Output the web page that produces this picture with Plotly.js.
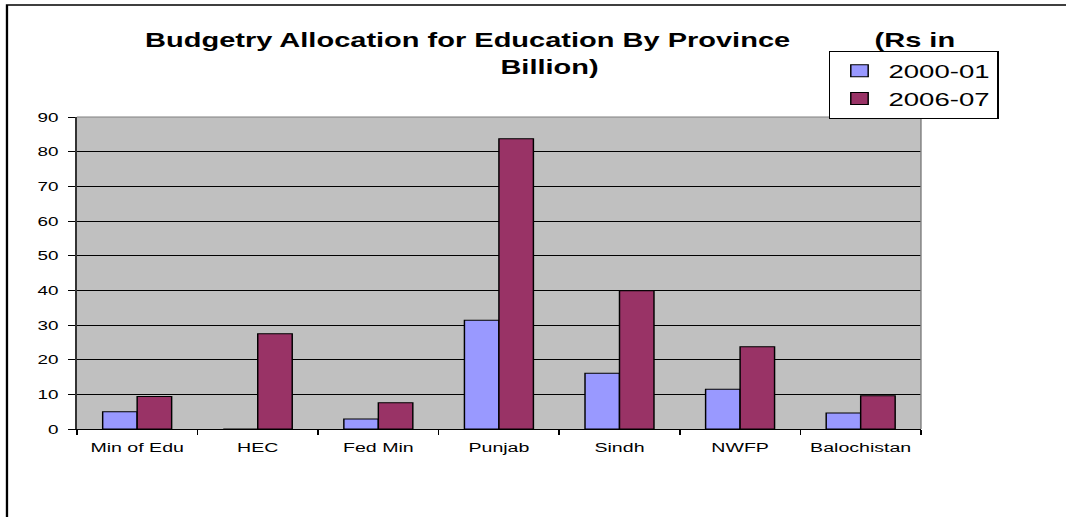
<!DOCTYPE html>
<html>
<head>
<meta charset="utf-8">
<script src="https://cdn.plot.ly/plotly-3.0.1.min.js"></script>
<style>
  html, body { margin: 0; padding: 0; background: #fff; overflow: hidden; }
  #chart { width: 735px; height: 517px; transform: scaleX(1.45034); transform-origin: 0 0; }
</style>
</head>
<body>
<div id="chart"></div>
<script>
const categories = ["Min of Edu", "HEC", "Fed Min", "Punjab", "Sindh", "NWFP", "Balochistan"];
const series2000 = [5.0, 0, 2.9, 31.4, 16.1, 11.5, 4.6];
const series2006 = [9.35, 27.5, 7.6, 83.7, 39.9, 23.7, 9.6];
const seriesNames = ["2000-01", "2006-07"];
const yTicks = [0, 10, 20, 30, 40, 50, 60, 70, 80, 90];

const FONT = "Liberation Sans, Arial, sans-serif";

const traces = [
  {
    type: "bar", name: seriesNames[0], x: categories, y: series2000,
    marker: { color: "#9999FF", line: { color: "#000000", width: 1 } },
    hoverinfo: "x+y+name"
  },
  {
    type: "bar", name: seriesNames[1], x: categories, y: series2006,
    marker: { color: "#993366", line: { color: "#000000", width: 1 } },
    hoverinfo: "x+y+name"
  }
];

const layout = {
  width: 735,
  height: 517,
  margin: { l: 53, r: 100, t: 117, b: 88, pad: 0 },
  paper_bgcolor: "#ffffff",
  plot_bgcolor: "#C0C0C0",
  font: { family: FONT, color: "#000000", size: 13 },
  barmode: "group",
  bargap: 0.428,
  bargroupgap: 0,
  showlegend: true,
  legend: {
    x: 0.9916, xanchor: "center",
    y: 1.2115, yanchor: "top",
    bgcolor: "#ffffff",
    bordercolor: "#000000",
    borderwidth: 1,
    font: { family: FONT, size: 19, color: "#000000" },
    tracegroupgap: 0
  },
  xaxis: {
    type: "category",
    showline: true, linecolor: "#000000", linewidth: 1,
    ticks: "outside", ticklen: 5, tickcolor: "#000000", tickwidth: 1,
    tickson: "boundaries",
    ticklabelstandoff: 6,
    showgrid: false, zeroline: false,
    tickfont: { family: FONT, size: 13.5, color: "#000000" },
    fixedrange: true
  },
  yaxis: {
    range: [0, 90],
    tickvals: yTicks,
    ticktext: yTicks.map(String),
    showline: true, linecolor: "#333333", linewidth: 1,
    ticks: "outside", ticklen: 5, tickcolor: "#000000", tickwidth: 1,
    ticklabelstandoff: 4,
    showgrid: true, gridcolor: "#000000", gridwidth: 1,
    zeroline: false,
    tickfont: { family: FONT, size: 13, color: "#000000" },
    fixedrange: true
  },
  shapes: [
    { type: "line", xref: "paper", yref: "paper", x0: 0, x1: 1, y0: 1, y1: 1,
      line: { color: "#808080", width: 1.2 }, layer: "above" },
    { type: "line", xref: "paper", yref: "paper", x0: 1, x1: 1, y0: 0, y1: 1,
      line: { color: "#808080", width: 1 }, layer: "above" },
    { type: "rect", xref: "paper", yref: "paper", x0: -0.0828, x1: 2, y0: -1, y1: 1.359,
      line: { color: "#000000", width: 1.6 }, fillcolor: "rgba(0,0,0,0)", layer: "above" }
  ],
  annotations: [
    { xref: "paper", yref: "paper", x: 0.4634, y: 1.2468, xanchor: "center", yanchor: "middle",
      text: "<b>Budgetry Allocation for Education By Province</b>", showarrow: false,
      font: { family: FONT, size: 20, color: "#000000" } },
    { xref: "paper", yref: "paper", x: 0.993, y: 1.2468, xanchor: "center", yanchor: "middle",
      text: "<b>(Rs in</b>", showarrow: false,
      font: { family: FONT, size: 20, color: "#000000" } },
    { xref: "paper", yref: "paper", x: 0.5605, y: 1.160, xanchor: "center", yanchor: "middle",
      text: "<b>Billion)</b>", showarrow: false,
      font: { family: FONT, size: 20, color: "#000000" } }
  ]
};

Plotly.newPlot("chart", traces, layout, { displayModeBar: false, staticPlot: true });
</script>
</body>
</html>
